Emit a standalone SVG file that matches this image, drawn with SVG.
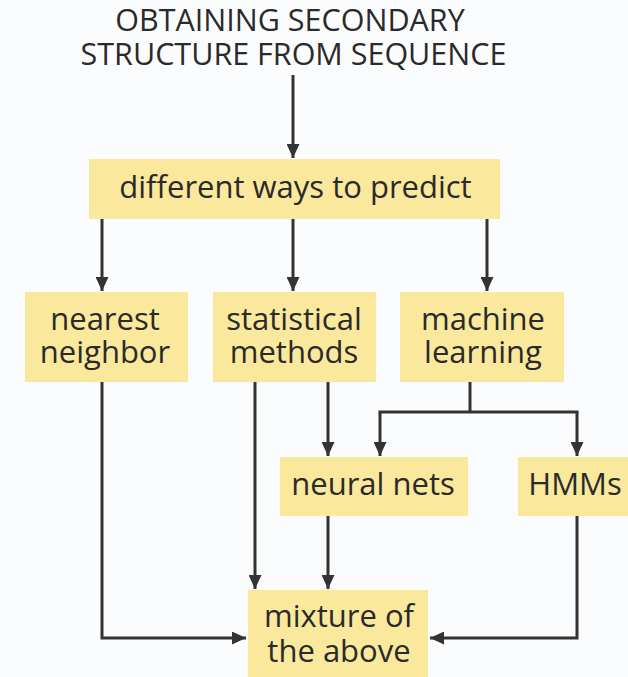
<svg xmlns="http://www.w3.org/2000/svg" width="628" height="677" viewBox="0 0 628 677">
<defs>
<style>
.box{fill:#fae89c;}
.t{font-family:"Open Sans","Noto Sans",sans-serif;font-size:31px;fill:#2a2a2a;text-anchor:middle;}
.title{font-family:"Open Sans","Noto Sans",sans-serif;font-size:30.5px;fill:#2a2a2a;text-anchor:middle;}
.c{fill:none;stroke:#333;stroke-width:3;}
</style>
<marker id="ah" markerUnits="userSpaceOnUse" markerWidth="14" markerHeight="13" refX="14" refY="6.5" orient="auto" viewBox="0 0 14 13">
<path d="M0,0 L14,6.5 L0,13 Z" fill="#333"/>
</marker>
</defs>
<rect width="628" height="677" fill="#fbfcfd"/>
<g id="title">
<text class="title" x="290" y="31">OBTAINING SECONDARY</text>
<text class="title" x="293.5" y="65">STRUCTURE FROM SEQUENCE</text>
</g>
<g id="predict">
<rect class="box" x="89" y="159" width="411" height="60"/>
<text class="t" x="295.5" y="198">different ways to predict</text>
</g>
<g id="nearest">
<rect class="box" x="25" y="292" width="163" height="90"/>
<text class="t" x="105" y="330">nearest</text>
<text class="t" x="105" y="363">neighbor</text>
</g>
<g id="statistical">
<rect class="box" x="213" y="292" width="163" height="90"/>
<text class="t" x="294" y="330">statistical</text>
<text class="t" x="294" y="363">methods</text>
</g>
<g id="machine">
<rect class="box" x="400" y="292" width="164" height="90"/>
<text class="t" x="483" y="330">machine</text>
<text class="t" x="483" y="363">learning</text>
</g>
<g id="neural">
<rect class="box" x="280" y="457" width="188" height="59"/>
<text class="t" x="373" y="495">neural nets</text>
</g>
<g id="hmms">
<rect class="box" x="518" y="457" width="110" height="59"/>
<text class="t" x="575" y="495">HMMs</text>
</g>
<g id="mixture">
<rect class="box" x="248" y="590" width="180" height="87"/>
<text class="t" x="339" y="627">mixture of</text>
<text class="t" x="339" y="662">the above</text>
</g>
<g id="connectors" class="c">
<path d="M293,75 V158" marker-end="url(#ah)"/>
<path d="M102,219 V291" marker-end="url(#ah)"/>
<path d="M293,219 V291" marker-end="url(#ah)"/>
<path d="M487,219 V291" marker-end="url(#ah)"/>
<path d="M102,382 V638 H246" marker-end="url(#ah)"/>
<path d="M255,382 V589" marker-end="url(#ah)"/>
<path d="M328,382 V456" marker-end="url(#ah)"/>
<path d="M470,382 V412"/>
<path d="M378.5,412 H578.5"/>
<path d="M380,412 V456" marker-end="url(#ah)"/>
<path d="M577,412 V456" marker-end="url(#ah)"/>
<path d="M328,516 V589" marker-end="url(#ah)"/>
<path d="M577,516 V638 H430" marker-end="url(#ah)"/>
</g>
</svg>
